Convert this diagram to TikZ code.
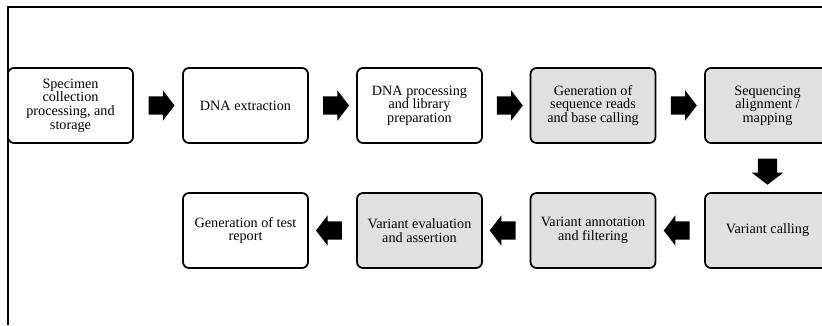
\documentclass[tikz,border=0pt]{standalone}
\usepackage{fontspec}
\setmainfont{Liberation Serif}
\usetikzlibrary{shapes.arrows,calc}
\definecolor{boxgrey}{RGB}{224,224,224}
\begin{document}
\begin{tikzpicture}[x=1pt,y=-1pt,
  stepbox/.style={draw, line width=1.7pt, rounded corners=6pt,
    minimum width=125pt, minimum height=75pt, align=center, inner sep=2pt,
    font=\fontsize{14.2}{13.6}\selectfont},
  shaded/.style={fill=boxgrey},
  flow/.style={single arrow, fill=black, draw=none,
    inner xsep=0pt, inner ysep=9pt,
    minimum height=26pt, single arrow head extend=6pt,
    single arrow tip angle=105},
  flowdown/.style={flow, shape border rotate=270,
    inner xsep=9.5pt, inner ysep=0pt},
  frame/.style={line width=1.5pt}]
\useasboundingbox (0,0) rectangle (822,325);
\clip (0,0) rectangle (822,325);

% outer frame (top and left edges)
\draw[frame] (822,7) -- (8,7) -- (8,325);

% first row, left to right
\node[stepbox] (s1) at (70.5,105.5) {Specimen\\collection\\processing, and\\storage};
\node[stepbox] (s2) at (245.5,105.5) {DNA extraction};
\node[stepbox] (s3) at (419.5,105.5) {DNA processing\\and library\\preparation};
\node[stepbox,shaded] (s4) at (593,105.5) {Generation of\\sequence reads\\and base calling};
\node[stepbox,shaded] (s5) at (767.5,105.5) {Sequencing\\alignment /\\mapping};

% second row, right to left
\node[stepbox,shaded] (s6) at (767.5,230.5) {Variant calling};
\node[stepbox,shaded] (s7) at (593,230.5) {Variant annotation\\and filtering};
\node[stepbox,shaded] (s8) at (419.5,230.5) {Variant evaluation\\and assertion};
\node[stepbox] (s9) at (245.5,230.5) {Generation of test\\report};

% block arrows between consecutive steps
\node[flow] (a12) at ($(s1.east)!0.5!(s2.west)$) {};
\node[flow] (a23) at ($(s2.east)!0.5!(s3.west)$) {};
\node[flow] (a34) at ($(s3.east)!0.5!(s4.west)$) {};
\node[flow] (a45) at ($(s4.east)!0.5!(s5.west)$) {};
\node[flowdown] (a56) at ($(s5.south)!0.5!(s6.north)$) {};
\node[flow, shape border rotate=180] (a67) at ($(s6.west)!0.5!(s7.east)$) {};
\node[flow, shape border rotate=180] (a78) at ($(s7.west)!0.5!(s8.east)$) {};
\node[flow, shape border rotate=180] (a89) at ($(s8.west)!0.5!(s9.east)$) {};
\end{tikzpicture}
\end{document}
